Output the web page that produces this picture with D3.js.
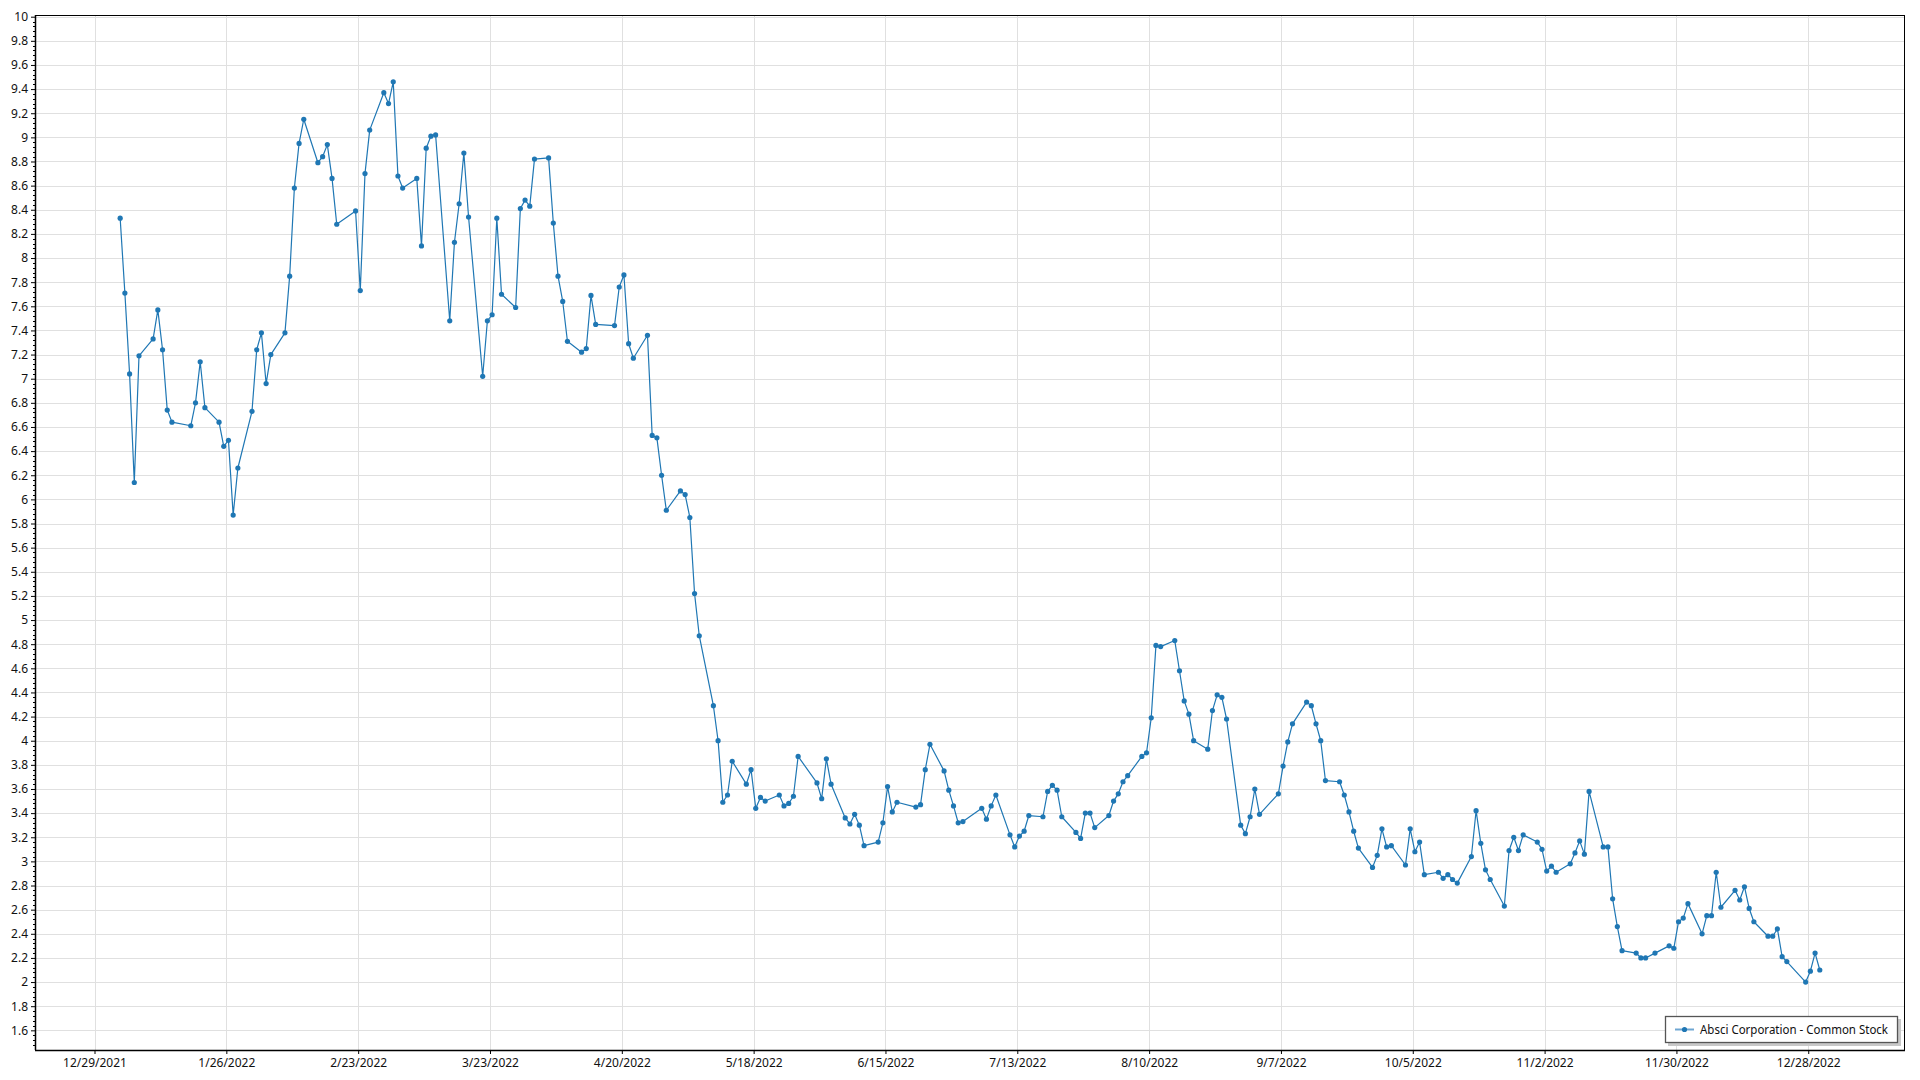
<!DOCTYPE html>
<html><head><meta charset="utf-8">
<script src="https://cdn.jsdelivr.net/npm/d3@7"></script>
<style>
body{margin:0;background:#fff;}
svg{display:block;}
text{font-family:"Segoe UI","Noto Sans",sans-serif;font-size:12px;fill:#111;}
</style>
</head><body>
<svg id="chart" width="1920" height="1080"></svg>
<script>
const seriesName = "Absci Corporation - Common Stock";

const tradeDates = [
"2022-01-03","2022-01-04","2022-01-05","2022-01-06","2022-01-07","2022-01-10","2022-01-11","2022-01-12","2022-01-13","2022-01-14",
"2022-01-18","2022-01-19","2022-01-20","2022-01-21","2022-01-24","2022-01-25","2022-01-26","2022-01-27","2022-01-28","2022-01-31",
"2022-02-01","2022-02-02","2022-02-03","2022-02-04","2022-02-07","2022-02-08","2022-02-09","2022-02-10","2022-02-11","2022-02-14",
"2022-02-15","2022-02-16","2022-02-17","2022-02-18","2022-02-22","2022-02-23","2022-02-24","2022-02-25","2022-02-28",
"2022-03-01","2022-03-02","2022-03-03","2022-03-04","2022-03-07","2022-03-08","2022-03-09","2022-03-10","2022-03-11","2022-03-14",
"2022-03-15","2022-03-16","2022-03-17","2022-03-18","2022-03-21","2022-03-22","2022-03-23","2022-03-24","2022-03-25","2022-03-28",
"2022-03-29","2022-03-30","2022-03-31",
"2022-04-01","2022-04-04","2022-04-05","2022-04-06","2022-04-07","2022-04-08","2022-04-11","2022-04-12","2022-04-13","2022-04-14",
"2022-04-18","2022-04-19","2022-04-20","2022-04-21","2022-04-22","2022-04-25","2022-04-26","2022-04-27","2022-04-28","2022-04-29",
"2022-05-02","2022-05-03","2022-05-04","2022-05-05","2022-05-06","2022-05-09","2022-05-10","2022-05-11","2022-05-12","2022-05-13",
"2022-05-16","2022-05-17","2022-05-18","2022-05-19","2022-05-20","2022-05-23","2022-05-24","2022-05-25","2022-05-26","2022-05-27",
"2022-05-31",
"2022-06-01","2022-06-02","2022-06-03","2022-06-06","2022-06-07","2022-06-08","2022-06-09","2022-06-10","2022-06-13","2022-06-14",
"2022-06-15","2022-06-16","2022-06-17","2022-06-21","2022-06-22","2022-06-23","2022-06-24","2022-06-27","2022-06-28","2022-06-29",
"2022-06-30",
"2022-07-01","2022-07-05","2022-07-06","2022-07-07","2022-07-08","2022-07-11","2022-07-12","2022-07-13","2022-07-14","2022-07-15",
"2022-07-18","2022-07-19","2022-07-20","2022-07-21","2022-07-22","2022-07-25","2022-07-26","2022-07-27","2022-07-28","2022-07-29",
"2022-08-01","2022-08-02","2022-08-03","2022-08-04","2022-08-05","2022-08-08","2022-08-09","2022-08-10","2022-08-11","2022-08-12",
"2022-08-15","2022-08-16","2022-08-17","2022-08-18","2022-08-19","2022-08-22","2022-08-23","2022-08-24","2022-08-25","2022-08-26",
"2022-08-29","2022-08-30","2022-08-31",
"2022-09-01","2022-09-02","2022-09-06","2022-09-07","2022-09-08","2022-09-09","2022-09-12","2022-09-13","2022-09-14","2022-09-15",
"2022-09-16","2022-09-19","2022-09-20","2022-09-21","2022-09-22","2022-09-23","2022-09-26","2022-09-27","2022-09-28","2022-09-29",
"2022-09-30",
"2022-10-03","2022-10-04","2022-10-05","2022-10-06","2022-10-07","2022-10-10","2022-10-11","2022-10-12","2022-10-13","2022-10-14",
"2022-10-17","2022-10-18","2022-10-19","2022-10-20","2022-10-21","2022-10-24","2022-10-25","2022-10-26","2022-10-27","2022-10-28",
"2022-10-31",
"2022-11-01","2022-11-02","2022-11-03","2022-11-04","2022-11-07","2022-11-08","2022-11-09","2022-11-10","2022-11-11","2022-11-14",
"2022-11-15","2022-11-16","2022-11-17","2022-11-18","2022-11-21","2022-11-22","2022-11-23","2022-11-25","2022-11-28","2022-11-29",
"2022-11-30",
"2022-12-01","2022-12-02","2022-12-05","2022-12-06","2022-12-07","2022-12-08","2022-12-09","2022-12-12","2022-12-13","2022-12-14",
"2022-12-15","2022-12-16","2022-12-19","2022-12-20","2022-12-21","2022-12-22","2022-12-23","2022-12-27","2022-12-28","2022-12-29",
"2022-12-30"
];

const closePrices = [
8.33,7.71,7.04,6.14,7.19,7.33,7.57,7.24,6.74,6.64,
6.61,6.80,7.14,6.76,6.64,6.44,6.49,5.87,6.26,6.73,
7.24,7.38,6.96,7.20,7.38,7.85,8.58,8.95,9.15,8.79,
8.84,8.94,8.66,8.28,8.39,7.73,8.70,9.06,9.37,
9.28,9.46,8.68,8.58,8.66,8.10,8.91,9.01,9.02,7.48,
8.13,8.45,8.87,8.34,7.02,7.48,7.53,8.33,7.70,7.59,
8.41,8.48,8.43,
8.82,8.83,8.29,7.85,7.64,7.31,7.22,7.25,7.69,7.45,
7.44,7.76,7.86,7.29,7.17,7.36,6.53,6.51,6.20,5.91,
6.07,6.04,5.85,5.22,4.87,4.29,4.00,3.49,3.55,3.83,
3.64,3.76,3.44,3.53,3.50,3.55,3.46,3.48,3.54,3.87,
3.65,
3.52,3.85,3.64,3.36,3.31,3.39,3.30,3.13,3.16,3.32,
3.62,3.41,3.49,3.45,3.47,3.76,3.97,3.75,3.59,3.46,
3.32,
3.33,3.44,3.35,3.46,3.55,3.22,3.12,3.21,3.25,3.38,
3.37,3.58,3.63,3.59,3.37,3.24,3.19,3.40,3.40,3.28,
3.38,3.50,3.56,3.66,3.71,3.87,3.90,4.19,4.79,4.78,
4.83,4.58,4.33,4.22,4.00,3.93,4.25,4.38,4.36,4.18,
3.30,3.23,3.37,
3.60,3.39,3.56,3.79,3.99,4.14,4.32,4.29,4.14,4.00,
3.67,3.66,3.55,3.41,3.25,3.11,2.95,3.05,3.27,3.12,
3.13,
2.97,3.27,3.08,3.16,2.89,2.91,2.86,2.89,2.85,2.82,
3.04,3.42,3.15,2.93,2.85,2.63,3.09,3.20,3.09,3.22,
3.16,
3.10,2.92,2.96,2.91,2.98,3.07,3.17,3.06,3.58,3.12,
3.12,2.69,2.46,2.26,2.24,2.20,2.20,2.24,2.30,2.28,
2.50,
2.53,2.65,2.40,2.55,2.55,2.91,2.62,2.76,2.68,2.79,
2.61,2.50,2.38,2.38,2.44,2.21,2.17,2.00,2.09,2.24,
2.10
];

const xTickDates = ["2021-12-29","2022-01-26","2022-02-23","2022-03-23","2022-04-20","2022-05-18","2022-06-15",
  "2022-07-13","2022-08-10","2022-09-07","2022-10-05","2022-11-02","2022-11-30","2022-12-28"];
const yTickValues = [1.6,1.8,2,2.2,2.4,2.6,2.8,3,3.2,3.4,3.6,3.8,4,4.2,4.4,4.6,4.8,5,5.2,5.4,5.6,5.8,
  6,6.2,6.4,6.6,6.8,7,7.2,7.4,7.6,7.8,8,8.2,8.4,8.6,8.8,9,9.2,9.4,9.6,9.8,10];

const plot = {left:35, right:1905, top:15, bottom:1050};
const lineColor = "#1f77b4";
const parse = d3.timeParse("%Y-%m-%d");
const DAY = 864e5;
const ref = +parse("2021-12-29");

const x = d3.scaleTime()
  .domain([new Date(ref - 12.64*DAY), new Date(ref + 384.55*DAY)])
  .range([plot.left, plot.right]);
const y = d3.scaleLinear().domain([1.437, 10.014]).range([plot.bottom, plot.top]);

const data = tradeDates.map((d,i)=>({date:new Date(+parse(d) + 0.45*DAY), value:closePrices[i]}));
const svg = d3.select("#chart");
svg.append("rect").attr("width",1920).attr("height",1080).attr("fill","#fff");

// grid
const grid = svg.append("g").attr("stroke","#e0e0e0").attr("stroke-width",1);
grid.selectAll("line.h").data(yTickValues).join("line")
  .attr("x1",plot.left).attr("x2",plot.right)
  .attr("y1",d=>Math.round(y(d))+0.5).attr("y2",d=>Math.round(y(d))+0.5);
const xTicks = xTickDates.map(parse);
grid.selectAll("line.v").data(xTicks).join("line")
  .attr("y1",plot.top).attr("y2",plot.bottom)
  .attr("x1",d=>Math.round(x(d))+0.5).attr("x2",d=>Math.round(x(d))+0.5);

// axes
const fmtDate = d3.timeFormat("%-m/%-d/%Y");
const xAxis = d3.axisBottom(x).tickValues(xTicks).tickFormat(fmtDate).tickSize(4).tickPadding(4);
const gx = svg.append("g").attr("transform",`translate(0,${plot.bottom})`).call(xAxis);
gx.select(".domain").remove();
gx.selectAll("text").attr("font-size",12).attr("fill","#111").style("font-family",'"Segoe UI","Noto Sans",sans-serif');
gx.selectAll(".tick line").attr("stroke","#000");

const yAxis = d3.axisLeft(y).tickValues(yTickValues).tickFormat(d3.format("~g")).tickSize(4).tickPadding(3);
const gy = svg.append("g").attr("transform",`translate(${plot.left},0)`).call(yAxis);
gy.select(".domain").remove();
gy.selectAll("text").attr("font-size",12).attr("fill","#111").style("font-family",'"Segoe UI","Noto Sans",sans-serif');
gy.selectAll(".tick line").attr("stroke","#000");
// minor ticks
const minor = d3.range(1.48, 10.0, 0.04).filter(v=>Math.abs(v*5-Math.round(v*5))>1e-6);
svg.append("g").selectAll("line").data(minor).join("line")
  .attr("x1",plot.left-2).attr("x2",plot.left)
  .attr("y1",d=>Math.round(y(d))+0.5).attr("y2",d=>Math.round(y(d))+0.5)
  .attr("stroke","#000");

// plot border
svg.append("rect").attr("x",plot.left+0.5).attr("y",plot.top+0.5)
  .attr("width",plot.right-plot.left-1).attr("height",plot.bottom-plot.top)
  .attr("fill","none").attr("stroke","#000").attr("stroke-width",1);
svg.append("line").attr("x1",plot.left).attr("x2",plot.right).attr("y1",plot.bottom+0.5).attr("y2",plot.bottom+0.5).attr("stroke","#000").attr("stroke-width",1.5);
svg.append("line").attr("x1",plot.left+0.5).attr("x2",plot.left+0.5).attr("y1",plot.top).attr("y2",plot.bottom).attr("stroke","#000").attr("stroke-width",1.5);

// series
const line = d3.line().x(d=>x(d.date)).y(d=>y(d.value));
svg.append("path").datum(data).attr("d",line).attr("fill","none")
  .attr("stroke",lineColor).attr("stroke-width",1.2).attr("stroke-linejoin","round");
svg.append("g").selectAll("circle").data(data).join("circle")
  .attr("cx",d=>x(d.date)).attr("cy",d=>y(d.value)).attr("r",2.6).attr("fill",lineColor);

// legend
const lg = svg.append("g");
lg.append("rect").attr("x",1668).attr("y",1019).attr("width",233).attr("height",27).attr("fill","#c8c8c8");
lg.append("rect").attr("x",1665.5).attr("y",1016.5).attr("width",232).attr("height",26)
  .attr("fill","#fff").attr("stroke","#555").attr("stroke-width",1.3);
lg.append("line").attr("x1",1675).attr("x2",1694).attr("y1",1029.5).attr("y2",1029.5)
  .attr("stroke","#6fa6d2").attr("stroke-width",2);
lg.append("circle").attr("cx",1684.5).attr("cy",1029.5).attr("r",2.6).attr("fill",lineColor);
lg.append("text").attr("x",1700).attr("y",1033.5).attr("textLength",188).attr("lengthAdjust","spacingAndGlyphs")
  .text(seriesName);
</script>
</body></html>
